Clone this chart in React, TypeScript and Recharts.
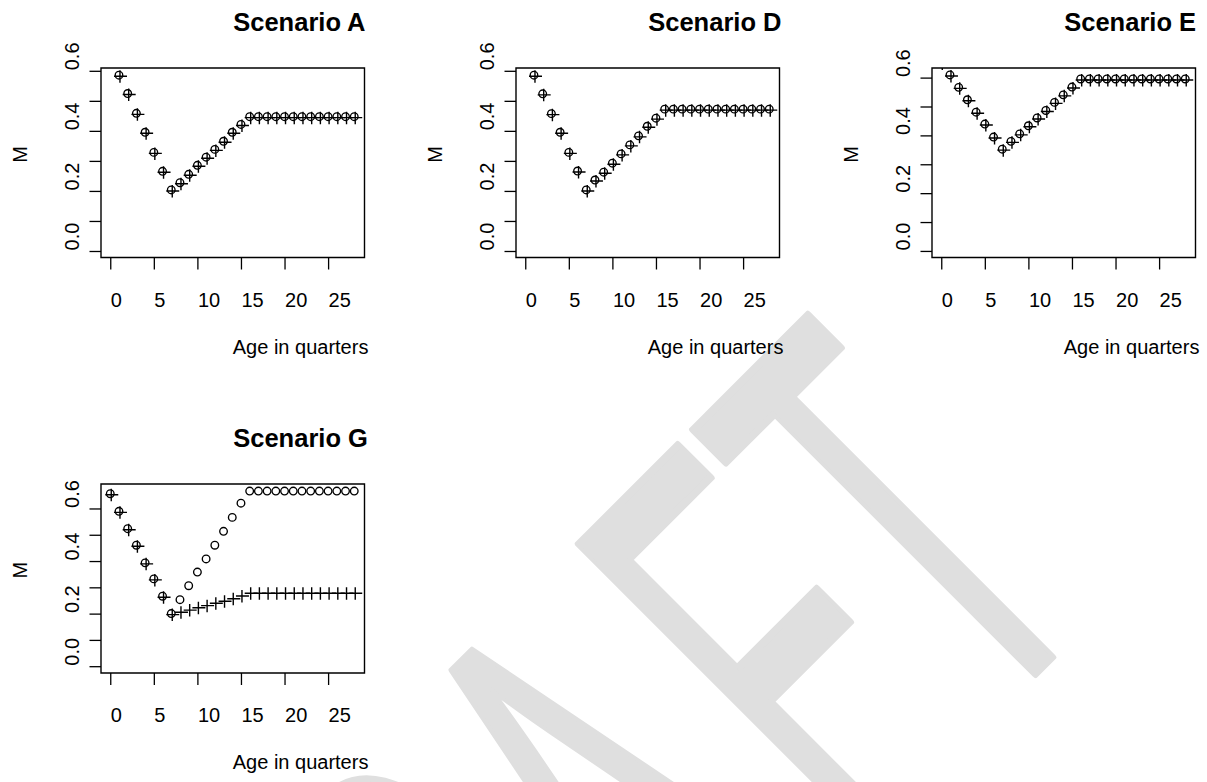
import React from "react"
import { ScatterChart, Scatter, XAxis, YAxis, ReferenceArea } from "recharts"

// age in quarters (x) for every panel
const AGES = [0, 1, 2, 3, 4, 5, 6, 7, 8, 9, 10, 11, 12, 13, 14, 15, 16, 17, 18, 19, 20, 21, 22, 23, 24, 25, 26, 27, 28]
const X_TICKS = [0, 5, 10, 15, 20, 25]
const Y_TICKS = [0, 0.1, 0.2, 0.3, 0.4, 0.5, 0.6]
const Y_LABELLED = [0, 0.2, 0.4, 0.6]

// natural mortality M by age; null = not plotted
const M_A = [null, 0.587, 0.526, 0.46, 0.397, 0.33, 0.267, 0.205, 0.229, 0.257, 0.287, 0.314, 0.34, 0.367, 0.397, 0.423,
  0.449, 0.449, 0.449, 0.449, 0.449, 0.449, 0.449, 0.449, 0.449, 0.449, 0.449, 0.449, 0.449]
const M_D = [null, 0.587, 0.525, 0.459, 0.397, 0.33, 0.268, 0.205, 0.238, 0.264, 0.294, 0.325, 0.355, 0.385, 0.417, 0.444,
  0.474, 0.474, 0.474, 0.474, 0.474, 0.474, 0.474, 0.474, 0.474, 0.474, 0.474, 0.474, 0.474]
const M_E = [0.654, 0.611, 0.568, 0.525, 0.482, 0.441, 0.396, 0.354, 0.381, 0.407, 0.435, 0.462, 0.488, 0.516, 0.542, 0.569,
  0.597, 0.597, 0.597, 0.597, 0.597, 0.597, 0.597, 0.597, 0.597, 0.597, 0.597, 0.597, 0.597]
const M_G_CIRCLE = [0.658, 0.591, 0.525, 0.462, 0.395, 0.334, 0.268, 0.202, 0.255, 0.308, 0.36, 0.41, 0.462, 0.515, 0.568, 0.622,
  0.668, 0.668, 0.668, 0.668, 0.668, 0.668, 0.668, 0.668, 0.668, 0.668, 0.668, 0.668, 0.668]
const M_G_PLUS = [0.658, 0.591, 0.525, 0.462, 0.395, 0.334, 0.268, 0.202, 0.211, 0.219, 0.228, 0.236, 0.245, 0.253, 0.262, 0.273,
  0.283, 0.283, 0.283, 0.283, 0.283, 0.283, 0.283, 0.283, 0.283, 0.283, 0.283, 0.283, 0.283]

const FONT = '"Liberation Sans", Arial, Helvetica, sans-serif'
const X_DOMAIN: [number, number] = [-1.12, 29.12]
const BOX_W = 263.5
const PAD_L = 100
const PAD_T = 68

const toPoints = (vals: (number | null)[]) =>
  AGES.map((age, i) => ({ age, m: vals[i] })).filter((d) => d.m != null)

function CircleMark(props: any) {
  const { cx, cy } = props
  if (cx == null || cy == null) return null
  return <circle cx={cx - 0.5} cy={cy} r={3.8} fill="none" stroke="#000" strokeWidth={1.35} />
}

function PlusMark(props: any) {
  const { cx, cy } = props
  if (cx == null || cy == null) return null
  return (
    <path
      d={`M${cx - 5.5},${cy + 1}H${cx + 7.5}M${cx + 0.5},${cy - 5}V${cy + 7.5}`}
      stroke="#000"
      strokeWidth={1.4}
      fill="none"
    />
  )
}

function XTick(props: any) {
  const { x, y, payload } = props
  return (
    <text x={x} y={y + 37} textAnchor="start" fontFamily={FONT} fontSize={20} fill="#000">
      {payload.value}
    </text>
  )
}

function YTick(props: any) {
  const { x, y, payload } = props
  if (!Y_LABELLED.some((v) => Math.abs(v - payload.value) < 1e-6)) return <g />
  return (
    <text
      transform={`translate(${x - 11},${y - 1}) rotate(-90)`}
      textAnchor="start"
      fontFamily={FONT}
      fontSize={20}
      fill="#000"
    >
      {Number(payload.value).toFixed(1)}
    </text>
  )
}

interface PanelProps {
  title: string
  left: number
  top: number
  boxH: number
  yDomain: [number, number]
  circles: (number | null)[]
  pluses: (number | null)[]
}

function Panel({ title, left, top, boxH, yDomain, circles, pluses }: PanelProps) {
  const width = PAD_L + BOX_W + 20
  const height = PAD_T + boxH + 110
  const midX = PAD_L + BOX_W / 2
  return (
    <div style={{ position: "absolute", left: left - PAD_L, top: top - PAD_T, width, height }}>
      <ScatterChart width={width} height={height} margin={{ top: PAD_T, right: 20, bottom: 0, left: 0 }}>
        <XAxis
          type="number"
          dataKey="age"
          domain={X_DOMAIN}
          ticks={X_TICKS}
          allowDataOverflow
          axisLine={false}
          tickLine={{ stroke: "#000", strokeWidth: 1.3 }}
          tickSize={12}
          tickMargin={0}
          height={110}
          tick={<XTick />}
          interval={0}
        />
        <YAxis
          type="number"
          dataKey="m"
          domain={yDomain}
          ticks={Y_TICKS}
          allowDataOverflow
          axisLine={false}
          tickLine={{ stroke: "#000", strokeWidth: 1.3 }}
          tickSize={11.5}
          tickMargin={0}
          width={PAD_L}
          tick={<YTick />}
          interval={0}
        />
        <ReferenceArea
          x1={X_DOMAIN[0]}
          x2={X_DOMAIN[1]}
          y1={yDomain[0]}
          y2={yDomain[1]}
          fill="none"
          fillOpacity={0}
          stroke="#000"
          strokeWidth={1.4}
          ifOverflow="visible"
        />
        <Scatter data={toPoints(circles)} shape={<CircleMark />} isAnimationActive={false} />
        <Scatter data={toPoints(pluses)} shape={<PlusMark />} isAnimationActive={false} />
      </ScatterChart>
      <svg
        width={width}
        height={height}
        style={{ position: "absolute", left: 0, top: 0, pointerEvents: "none" }}
        fontFamily={FONT}
      >
        <text x={midX + 0.5} y={PAD_T - 37} fontSize={25.5} fontWeight="bold" textAnchor="start">
          {title}
        </text>
        <text x={midX} y={PAD_T + boxH + 96} fontSize={20} textAnchor="start">
          Age in quarters
        </text>
        <text transform={`translate(${PAD_L - 74.5},${PAD_T + boxH / 2}) rotate(-90)`} fontSize={20} textAnchor="start">
          M
        </text>
      </svg>
    </div>
  )
}

export default function App() {
  return (
    <div
      style={{
        position: "absolute",
        left: 0,
        top: 0,
        width: 1207,
        height: 782,
        overflow: "hidden",
        background: "#fff",
      }}
    >
      <svg width={1207} height={782} style={{ position: "absolute", left: 0, top: 0 }}>
        <text
          transform="translate(1107,602) rotate(-45) scale(0.487,1)"
          textAnchor="end"
          fontFamily={FONT}
          fontSize={602}
          fill="#dfdfdf"
          stroke="#dfdfdf"
          strokeWidth={8}
          strokeLinejoin="round"
        >
          DRA<tspan dx={86}>FT</tspan>
        </text>
      </svg>
      <Panel title="Scenario A" left={100.5} top={67.5} boxH={189.5} yDomain={[-0.02, 0.611]} circles={M_A} pluses={M_A} />
      <Panel title="Scenario D" left={516} top={67.5} boxH={189.5} yDomain={[-0.02, 0.611]} circles={M_D} pluses={M_D} />
      <Panel title="Scenario E" left={932} top={67.5} boxH={189.5} yDomain={[-0.021, 0.635]} circles={M_E} pluses={M_E} />
      <Panel
        title="Scenario G"
        left={100.5}
        top={484}
        boxH={189}
        yDomain={[-0.024, 0.695]}
        circles={M_G_CIRCLE}
        pluses={M_G_PLUS}
      />
    </div>
  )
}
